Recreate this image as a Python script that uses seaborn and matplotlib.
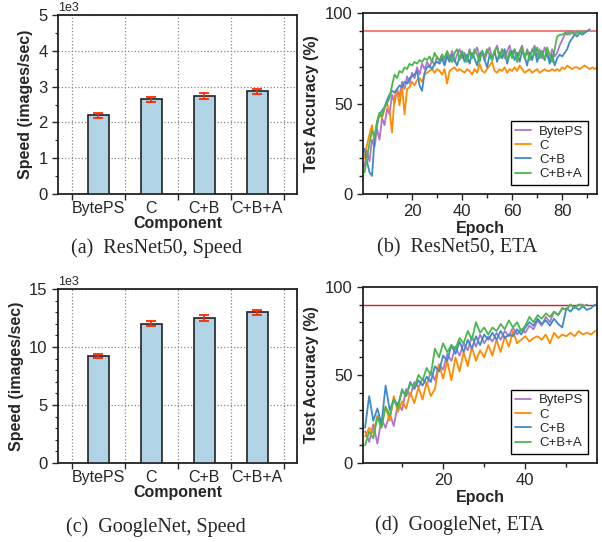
import numpy as np
import pandas as pd
import matplotlib
matplotlib.use('Agg')
import matplotlib.pyplot as plt
import seaborn as sns
from matplotlib.ticker import MultipleLocator, FixedLocator

# ---- data ----
components = ['BytePS', 'C', 'C+B', 'C+B+A']

resnet_speed = [2200, 2650, 2750, 2870]
resnet_err = [70, 70, 80, 70]
googlenet_speed = [9250, 12000, 12500, 13000]
googlenet_err = [180, 220, 230, 230]

# ResNet50 test accuracy (%) per epoch
resnet_byteps = [15, 24, 18, 30, 26, 36, 30, 42, 38, 47,
                 44, 55, 50, 58, 54, 62, 58, 65, 61, 67,
                 64, 70, 66, 72, 69, 73, 70, 74, 71, 76,
                 73, 77, 72, 78, 74, 79, 73, 77, 80, 75,
                 78, 74, 80, 75, 78, 81, 76, 79, 74, 78,
                 81, 75, 79, 82, 76, 80, 75, 79, 82, 76,
                 80, 76, 79, 82, 75, 80, 77, 79, 82, 76,
                 80, 75, 81, 77, 74, 80, 76, 78, 82, 85,
                 88, 90, 88, 90, 89, 90]
resnet_c = [20, 27, 33, 38, 28, 40, 44, 42, 47, 50,
            46, 34, 54, 57, 49, 60, 44, 58, 59, 62,
            60, 63, 64, 62, 66, 67, 68, 69, 67, 69,
            68, 66, 69, 61, 68, 69, 70, 68, 69, 68,
            67, 69, 68, 66, 69, 67, 72, 68, 67, 69,
            71, 73, 68, 67, 69, 68, 70, 67, 69, 68,
            70, 68, 71, 69, 67, 68, 69, 67, 68, 69,
            67, 68, 69, 68, 68, 69, 68, 69, 68, 70,
            69, 71, 70, 69, 70, 70, 69, 70, 71, 70,
            69, 70, 69, 70]
resnet_cb = [25, 18, 12, 10, 30, 38, 44, 46, 48, 52,
             55, 57, 56, 58, 60, 59, 62, 61, 64, 65,
             66, 68, 60, 57, 67, 70, 71, 69, 72, 73,
             72, 75, 71, 76, 73, 77, 74, 71, 76, 78,
             73, 77, 72, 78, 75, 71, 77, 79, 74, 70,
             77, 74, 79, 73, 78, 75, 80, 72, 77, 79,
             74, 78, 73, 79, 76, 71, 78, 74, 80, 73,
             77, 79, 74, 78, 72, 77, 71, 75, 77, 76,
             78, 80, 84, 86, 88, 87, 89, 88, 89, 90, 91]
resnet_cba = [12, 20, 28, 35, 32, 40, 45, 43, 48, 50,
              53, 60, 66, 64, 68, 67, 70, 69, 72, 71,
              73, 72, 74, 73, 75, 74, 76, 73, 78, 75,
              74, 77, 75, 79, 76, 73, 78, 80, 74, 79,
              76, 73, 79, 75, 80, 77, 73, 79, 76, 80,
              77, 74, 79, 81, 75, 80, 77, 74, 79, 75,
              80, 73, 78, 81, 75, 79, 74, 80, 77, 81,
              75, 79, 74, 81, 77, 73, 80, 87, 88, 88,
              89, 88, 90, 89, 88, 89, 90, 89, 90]

# GoogleNet test accuracy (%) per epoch
goog_byteps = [18, 12, 22, 11, 25, 20, 28, 21, 34, 30,
               42, 38, 46, 43, 48, 44, 52, 47, 56, 53,
               62, 58, 66, 61, 68, 64, 72, 66, 73, 68,
               72, 69, 74, 70, 75, 72, 77, 73, 76, 74,
               78, 76, 81, 78, 83, 80, 86, 84, 88, 87,
               90, 88, 90, 90]
goog_c = [15, 20, 17, 27, 22, 32, 24, 38, 29, 35,
          31, 40, 34, 43, 36, 46, 38, 42, 56, 48,
          58, 47, 60, 52, 63, 55, 66, 58, 64, 60,
          67, 61, 70, 63, 72, 66, 75, 68, 70, 72,
          69, 71, 72, 70, 73, 68, 74, 71, 73, 72,
          74, 72, 75, 73, 74, 73, 75]
goog_cb = [20, 38, 24, 31, 22, 44, 30, 36, 33, 41,
           38, 46, 42, 47, 44, 49, 46, 55, 52, 61,
           58, 67, 62, 69, 63, 70, 65, 72, 67, 73,
           70, 74, 70, 75, 71, 73, 72, 76, 73, 77,
           80, 78, 82, 79, 81, 78, 82, 79, 77, 88,
           86, 89, 87, 89, 87, 88, 90]
goog_cba = [10, 18, 14, 26, 20, 32, 27, 36, 31, 42,
            38, 45, 43, 50, 47, 54, 50, 65, 60, 68,
            63, 67, 65, 71, 68, 75, 70, 80, 74, 77,
            73, 77, 75, 79, 76, 81, 77, 80, 75, 78,
            83, 80, 84, 82, 85, 83, 86, 84, 88, 87,
            90, 88, 90, 89, 90]

line_colors = {'BytePS': '#b373cc', 'C': '#ff8c00', 'C+B': '#3d8bc7', 'C+B+A': '#4cb74c'}

sns.set_theme(style='white')
plt.rcParams['font.family'] = ['Liberation Sans', 'DejaVu Sans']
plt.rcParams['axes.edgecolor'] = '#222222'
plt.rcParams['axes.linewidth'] = 1.3
plt.rcParams['xtick.direction'] = 'out'
plt.rcParams['ytick.direction'] = 'out'
plt.rcParams['xtick.bottom'] = True
plt.rcParams['ytick.left'] = True

fig = plt.figure(figsize=(6.02, 5.42), dpi=100)


def long_df(series):
    rows = []
    for name, vals in series.items():
        for i, v in enumerate(vals):
            rows.append({'Epoch': i + 1, 'Acc': v, 'Method': name})
    return pd.DataFrame(rows)


def bar_panel(rect, speed, err, ymax, minor_step, major_step):
    ax = fig.add_axes(rect)
    df = pd.DataFrame({'Component': components, 'Speed': speed})
    sns.barplot(data=df, x='Component', y='Speed', color='#b0d4e6', width=0.4,
                edgecolor='#222222', linewidth=1.2, saturation=1, ax=ax, zorder=3)
    ax.errorbar(np.arange(len(components)), speed, yerr=err, fmt='none',
                ecolor='#ff2a00', elinewidth=1.3, capsize=3.5, capthick=1.3, zorder=4)
    ax.set_xlim(-0.76, 3.75)
    ax.set_ylim(0, ymax)
    ax.xaxis.set_major_locator(FixedLocator([-0.5, 0.5, 1.5, 2.5, 3.5]))
    ax.xaxis.set_minor_locator(FixedLocator([0, 1, 2, 3]))
    ax.set_xticklabels([], minor=False)
    ax.set_xticklabels(components, minor=True)
    ax.tick_params(axis='x', which='minor', length=0, labelsize=11.5, pad=5)
    ax.tick_params(axis='x', which='major', length=4, width=1)
    ax.yaxis.set_major_locator(MultipleLocator(major_step))
    ax.yaxis.set_minor_locator(MultipleLocator(minor_step))
    ax.tick_params(axis='y', which='major', length=4, width=1, labelsize=12)
    ax.tick_params(axis='y', which='minor', length=2, width=0.8)
    ax.ticklabel_format(axis='y', style='sci', scilimits=(3, 3))
    ax.yaxis.get_offset_text().set_fontsize(9)
    ax.grid(True, which='major', linestyle=':', color='#888888', linewidth=0.9, zorder=0)
    ax.set_axisbelow(True)
    ax.set_xlabel('Component', fontsize=11.5, fontweight='bold', labelpad=0)
    ax.set_ylabel('Speed (images/sec)', fontsize=11.5, fontweight='bold')
    return ax


def line_panel(rect, series, xmin, xmax, hline_color, hline_lw):
    ax = fig.add_axes(rect)
    df = long_df(series)
    sns.lineplot(data=df, x='Epoch', y='Acc', hue='Method', palette=line_colors,
                 linewidth=1.3, ax=ax)
    ax.axhline(90, color=hline_color, linewidth=hline_lw, zorder=1)
    ax.set_xlim(xmin, xmax)
    ax.set_ylim(0, 100)
    ax.xaxis.set_major_locator(MultipleLocator(20))
    ax.xaxis.set_minor_locator(MultipleLocator(10))
    ax.yaxis.set_major_locator(MultipleLocator(50))
    ax.yaxis.set_minor_locator(MultipleLocator(10))
    ax.tick_params(which='major', length=4, width=1, labelsize=12)
    ax.tick_params(which='minor', length=3, width=1)
    ax.set_xlabel('Epoch', fontsize=11.5, fontweight='bold', labelpad=1)
    ax.set_ylabel('Test Accuracy (%)', fontsize=11.5, fontweight='bold')
    leg = ax.legend(loc='lower right', fontsize=9.5, frameon=True, fancybox=False,
                    edgecolor='black', framealpha=1, handlelength=1.2,
                    borderpad=0.35, labelspacing=0.15, handletextpad=0.6,
                    borderaxespad=0.7)
    leg.get_frame().set_linewidth(1.0)
    return ax


bar_panel([0.0963, 0.642, 0.397, 0.330], resnet_speed, resnet_err, 5000, 500, 1000)
line_panel([0.603, 0.642, 0.389, 0.334],
           {'BytePS': resnet_byteps, 'C': resnet_c, 'C+B': resnet_cb, 'C+B+A': resnet_cba},
           0.4, 94, '#f07f7f', 1.5)
bar_panel([0.0963, 0.1458, 0.397, 0.321], googlenet_speed, googlenet_err, 15000, 1000, 5000)
line_panel([0.603, 0.1458, 0.389, 0.3247],
           {'BytePS': goog_byteps, 'C': goog_c, 'C+B': goog_cb, 'C+B+A': goog_cba},
           0.5, 57.5, '#d62020', 1.0)

cap_kw = dict(ha='center', va='center', fontsize=14.5, family=['Liberation Serif', 'DejaVu Serif'])
fig.text(0.26, 0.542, '(a)  ResNet50, Speed', **cap_kw)
fig.text(0.759, 0.542, '(b)  ResNet50, ETA', **cap_kw)
fig.text(0.259, 0.028, '(c)  GoogleNet, Speed', **cap_kw)
fig.text(0.764, 0.031, '(d)  GoogleNet, ETA', **cap_kw)

fig.savefig('out.png', dpi=100)
